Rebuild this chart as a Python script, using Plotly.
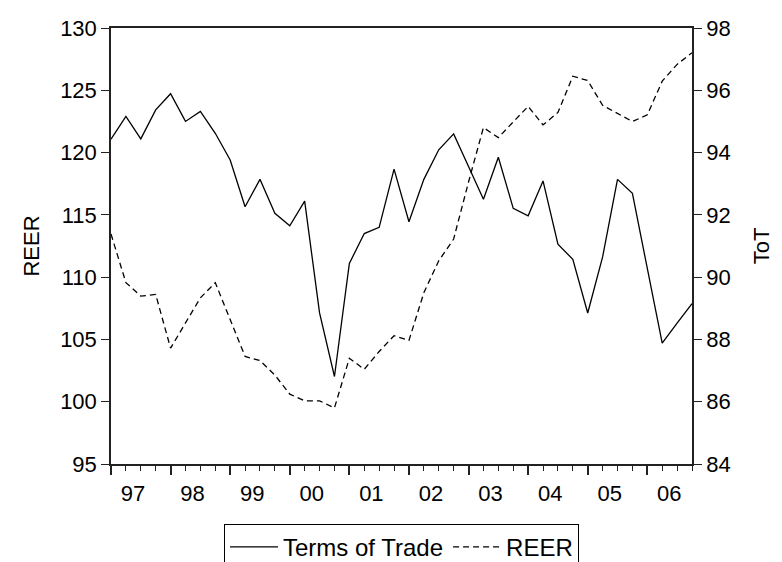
import plotly.graph_objects as go

# Quarterly data 1997Q1 - 2006Q4
quarters = [f"{y}Q{q}" for y in range(1997, 2007) for q in range(1, 5)]

tot = [94.43, 95.16, 94.44, 95.37, 95.89, 95.00, 95.32, 94.62, 93.76, 92.26,
       93.14, 92.05, 91.65, 92.44, 88.85, 86.81, 90.44, 91.40, 91.60, 93.47,
       91.78, 93.14, 94.09, 94.60, 93.55, 92.50, 93.85, 92.21, 91.97, 93.09,
       91.06, 90.57, 88.85, 90.65, 93.14, 92.69, 90.28, 87.88, 88.52, 89.15]

reer = [113.46, 109.56, 108.48, 108.61, 104.30, 106.32, 108.34, 109.56, 106.59, 103.63,
        103.30, 102.14, 100.61, 100.07, 100.07, 99.50, 103.49, 102.60, 104.03, 105.30,
        104.92, 108.75, 111.31, 113.06, 117.64, 122.01, 121.20, 122.44, 123.71, 122.22,
        123.22, 126.13, 125.78, 123.79, 123.17, 122.49, 123.03, 125.73, 127.08, 128.02]

year_labels = ["97", "98", "99", "00", "01", "02", "03", "04", "05", "06"]

x = list(range(len(quarters)))
year_ticks = [i for i in x if quarters[i].endswith("Q1")]

FONT = "Liberation Sans, Arial, sans-serif"
AX = "#222222"

fig = go.Figure()
fig.add_trace(go.Scatter(x=x, y=tot, name="Terms of Trade", mode="lines",
                         line=dict(color="black", width=1.3), yaxis="y2"))
fig.add_trace(go.Scatter(x=x, y=reer, name="REER", mode="lines",
                         line=dict(color="black", width=1.3, dash="6px,4px"), yaxis="y"))

# page body has an 8px margin, so the figure is sized/offset to compensate
fig.update_layout(
    width=766, height=554,
    margin=dict(l=103, r=82, t=20, b=98, autoexpand=False),
    paper_bgcolor="white", plot_bgcolor="white",
    font=dict(family=FONT, size=21, color="black"),
    showlegend=True,
    legend=dict(orientation="h", x=0.5, xanchor="center", y=-0.137, yanchor="top",
                bordercolor="black", borderwidth=1, font=dict(size=24),
                itemwidth=48, traceorder="normal"),
    xaxis=dict(range=[0, len(x) - 1], showgrid=False, zeroline=False, automargin=False,
               showline=True, linecolor=AX, linewidth=1.5, mirror=True,
               tickmode="array", tickvals=year_ticks, ticktext=year_labels,
               ticks="outside", ticklen=9, tickwidth=1.5, tickcolor=AX,
               ticklabelshift=22, tickfont=dict(size=22),
               minor=dict(tickmode="array", tickvals=x, ticks="outside",
                          ticklen=5, tickwidth=1.2, tickcolor=AX, showgrid=False)),
    yaxis=dict(range=[95, 130], dtick=5, tick0=95, showgrid=False, zeroline=False,
               automargin=False,
               showline=True, linecolor=AX, linewidth=1.5,
               ticks="outside", ticklen=8, tickwidth=1.2, tickcolor=AX,
               tickfont=dict(size=22),
               title=dict(text="REER", standoff=14, font=dict(size=22))),
    yaxis2=dict(range=[84, 98], dtick=2, tick0=84, overlaying="y", side="right",
                showgrid=False, zeroline=False, automargin=False,
                showline=True, linecolor=AX, linewidth=1.5,
                ticks="outside", ticklen=8, tickwidth=1.2, tickcolor=AX,
                tickfont=dict(size=22),
                title=dict(text="ToT", standoff=26, font=dict(size=22))),
)

fig.write_html("out.html")
